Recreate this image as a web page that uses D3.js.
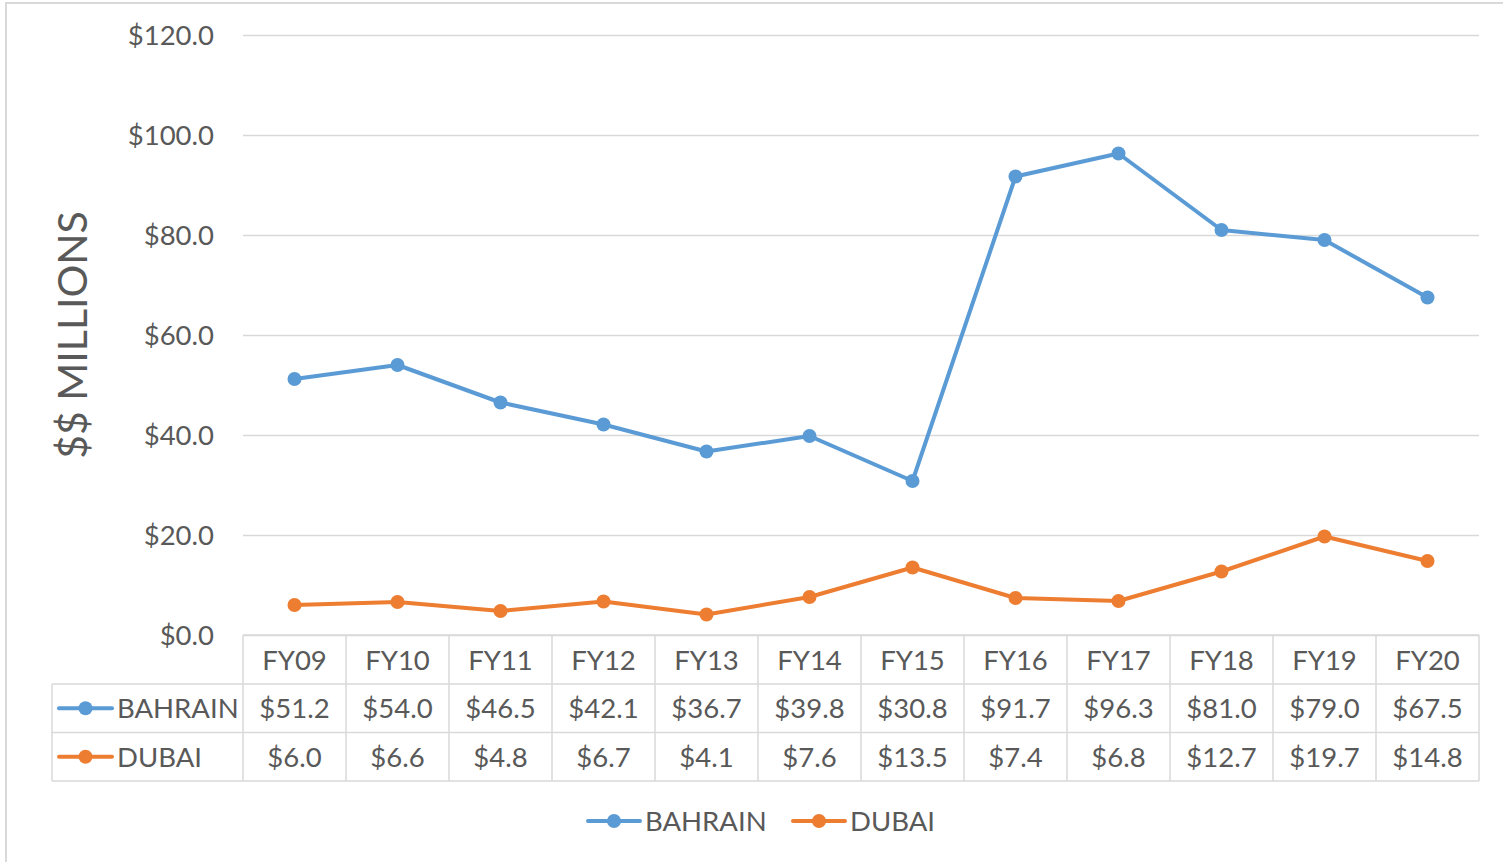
<!DOCTYPE html>
<html>
<head>
<meta charset="utf-8">
<script src="https://cdn.jsdelivr.net/npm/d3@7"></script>
<style>
body { margin: 0; background: #fff; }
text { font-family: Lato, "Open Sans", sans-serif; fill: #595959; }
</style>
</head>
<body>
<svg id="chart" width="1503" height="862"></svg>
<script>
// data
var years = ["FY09", "FY10", "FY11", "FY12", "FY13", "FY14", "FY15", "FY16", "FY17", "FY18", "FY19", "FY20"];
var bahrain = [51.2, 54.0, 46.5, 42.1, 36.7, 39.8, 30.8, 91.7, 96.3, 81.0, 79.0, 67.5];
var dubai = [6.0, 6.6, 4.8, 6.7, 4.1, 7.6, 13.5, 7.4, 6.8, 12.7, 19.7, 14.8];
var yTicks = [0, 20, 40, 60, 80, 100, 120];
var seriesNames = ["BAHRAIN", "DUBAI"];

var colors = ["#5B9BD5", "#ED7D31"];
var gridcolor = "#d9d9d9";
var fsize = "27.5px";

var svg = d3.select("#chart");
var fmt = function(v) { return "$" + d3.format(".1f")(v); };

// outer frame
svg.append("rect")
   .attr("x", 6).attr("y", 3)
   .attr("width", 1510).attr("height", 880)
   .attr("fill", "none")
   .attr("stroke", "#d9d9d9")
   .attr("stroke-width", 2);

var plotLeft = 243, plotRight = 1479, plotTop = 35, plotBottom = 635;

var xScale = d3.scaleBand().domain(years).range([plotLeft, plotRight]);
var yScale = d3.scaleLinear().domain([0, 120]).range([plotBottom, plotTop]);

// gridlines + tick labels
var yAxis = svg.append("g")
   .attr("transform", "translate(" + plotLeft + ",0)")
   .call(d3.axisLeft(yScale).tickValues(yTicks).tickSize(-(plotRight - plotLeft)).tickFormat(fmt).tickPadding(29));
yAxis.select(".domain").remove();
yAxis.selectAll(".tick line").attr("stroke", gridcolor).attr("stroke-width", 1.3);
yAxis.selectAll(".tick text")
   .attr("font-size", fsize)
   .attr("font-family", "Lato, sans-serif")
   .attr("fill", "#595959")
   .attr("dy", "0.33em");

// y title
svg.append("text")
   .attr("transform", "translate(87," + 335 + ") rotate(-90)")
   .attr("text-anchor", "middle")
   .attr("font-size", "41px")
   .text("$$ MILLIONS");

// lines
var allSeries = [bahrain, dubai];
var line = d3.line()
   .x(function(d, i) { return xScale(years[i]) + xScale.bandwidth() / 2; })
   .y(function(d) { return yScale(d); });

allSeries.forEach(function(s, k) {
	svg.append("path")
	   .datum(s)
	   .attr("d", line)
	   .attr("fill", "none")
	   .attr("stroke", colors[k])
	   .attr("stroke-width", 4)
	   .attr("stroke-linejoin", "round");
	svg.selectAll(".pt" + k)
	   .data(s)
	   .enter().append("circle")
	   .attr("class", "pt" + k)
	   .attr("cx", function(d, i) { return xScale(years[i]) + xScale.bandwidth() / 2; })
	   .attr("cy", function(d) { return yScale(d); })
	   .attr("r", 7)
	   .attr("fill", colors[k]);
});

// data table
var rowH = 48.5;
var tableLeft = 52;
var rowTop = [plotBottom, plotBottom + 49, plotBottom + 49 + rowH, plotBottom + 49 + 2 * rowH];
var tbl = svg.append("g");

// horizontal lines
tbl.append("line").attr("x1", plotLeft).attr("x2", plotRight).attr("y1", rowTop[0]).attr("y2", rowTop[0]);
for (var r = 1; r < 4; r++) {
	tbl.append("line").attr("x1", tableLeft).attr("x2", plotRight).attr("y1", rowTop[r]).attr("y2", rowTop[r]);
}
// vertical lines
tbl.append("line").attr("x1", tableLeft).attr("x2", tableLeft).attr("y1", rowTop[1]).attr("y2", rowTop[3]);
years.forEach(function(y) {
	tbl.append("line").attr("x1", xScale(y)).attr("x2", xScale(y)).attr("y1", rowTop[0]).attr("y2", rowTop[3]);
});
tbl.append("line").attr("x1", plotRight).attr("x2", plotRight).attr("y1", rowTop[0]).attr("y2", rowTop[3]);
tbl.selectAll("line").attr("stroke", gridcolor).attr("stroke-width", 1.5);

// header
tbl.selectAll(".hdr")
   .data(years)
   .enter().append("text")
   .attr("class", "hdr")
   .attr("x", function(d) { return xScale(d) + xScale.bandwidth() / 2; })
   .attr("y", (rowTop[0] + rowTop[1]) / 2 + 1)
   .attr("dy", "0.36em")
   .attr("text-anchor", "middle")
   .attr("font-size", fsize)
   .text(function(d) { return d; });

allSeries.forEach(function(s, k) {
	var cy = (rowTop[k + 1] + rowTop[k + 2]) / 2;
	tbl.selectAll(".val" + k)
	   .data(s)
	   .enter().append("text")
	   .attr("class", "val" + k)
	   .attr("x", function(d, i) { return xScale(years[i]) + xScale.bandwidth() / 2; })
	   .attr("y", cy)
	   .attr("dy", "0.36em")
	   .attr("text-anchor", "middle")
	   .attr("font-size", fsize)
	   .text(function(d) { return fmt(d); });
	// legend key in table
	tbl.append("line")
	   .attr("x1", 59).attr("x2", 112).attr("y1", cy).attr("y2", cy)
	   .attr("stroke", colors[k]).attr("stroke-width", 4).attr("stroke-linecap", "round");
	tbl.append("circle").attr("cx", 85.5).attr("cy", cy).attr("r", 7).attr("fill", colors[k]);
	tbl.append("text")
	   .attr("x", 117).attr("y", cy).attr("dy", "0.36em")
	   .attr("font-size", fsize)
	   .text(seriesNames[k]);
});

// bottom legend
var legX = [587, 792];
seriesNames.forEach(function(n, k) {
	var g = svg.append("g").attr("transform", "translate(" + legX[k] + ",821)");
	g.append("line").attr("x1", 1).attr("x2", 53).attr("y1", 0).attr("y2", 0)
	 .attr("stroke", colors[k]).attr("stroke-width", 4).attr("stroke-linecap", "round");
	g.append("circle").attr("cx", 27).attr("cy", 0).attr("r", 7).attr("fill", colors[k]);
	g.append("text").attr("x", 58).attr("y", 0).attr("dy", "0.36em")
	 .attr("font-size", fsize).text(n);
});
</script>
</body>
</html>
